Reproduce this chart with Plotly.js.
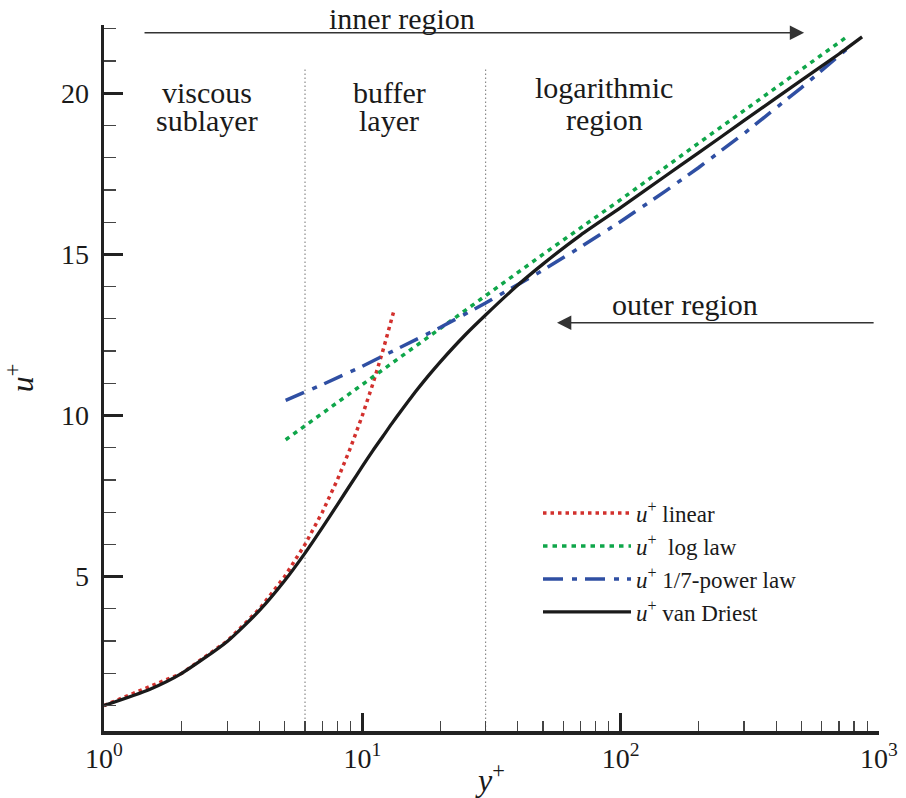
<!DOCTYPE html>
<html>
<head>
<meta charset="utf-8">
<script src="https://cdn.plot.ly/plotly-3.0.1.min.js"></script>
<style>html,body{margin:0;padding:0;background:#fff;} #chart{width:906px;height:798px;}</style>
</head>
<body>
<div id="chart"></div>
<script>
// ---- data ----
const yPlusVD = [1, 1.5, 2, 3, 4, 5, 6, 7, 8, 9, 10, 11, 12, 13, 14, 16, 18, 20, 25, 30, 40, 50, 70, 100, 150, 200, 300, 500, 700, 860];
const uVD     = [1.0, 1.5, 2.0, 2.99, 3.95, 4.87, 5.73, 6.52, 7.23, 7.86, 8.42, 8.92, 9.35, 9.75, 10.1, 10.72, 11.23, 11.66, 12.5, 13.12, 14.05, 14.7, 15.6, 16.45, 17.45, 18.15, 19.15, 20.4, 21.22, 21.75];

const yPlusLin = [1, 2, 3, 4, 5, 6, 7, 8, 9, 10, 11, 12, 13.3];
const uLin     = [1, 2, 3, 4, 5, 6, 7, 8, 9, 10, 11, 12, 13.3];

const yPlusLog = [5.05, 10, 20, 50, 100, 200, 500, 750];
const uLog     = [9.25, 10.95, 12.7, 15.0, 16.7, 18.45, 20.75, 21.75];

const yPlusPow = [5.05, 7, 10, 15, 20, 30, 50, 70, 100, 150, 200, 300, 500, 760];
const uPow     = [10.47, 10.96, 11.53, 12.22, 12.73, 13.49, 14.51, 15.23, 16.02, 16.98, 17.69, 18.75, 20.17, 21.41];

const regionBounds = [6, 30];
const regionLineU  = [0.21, 20.8];

const xTickVals  = [1, 10, 100, 1000];
const xTickText  = ['10<sup>0</sup>', '10<sup>1</sup>', '10<sup>2</sup>', '10<sup>3</sup>'];
const xMinorVals = [2,3,4,5,6,7,8,9,20,30,40,50,60,70,80,90,200,300,400,500,600,700,800,900];
const yTickVals  = [5, 10, 15, 20];
const yTickText  = ['5', '10', '15', '20'];

const seriesNames = ['<i>u</i><sup>+</sup> linear', '<i>u</i><sup>+</sup>  log law',
                     '<i>u</i><sup>+</sup> 1/7-power law', '<i>u</i><sup>+</sup> van Driest'];

const FONT = '"Liberation Serif", "DejaVu Serif", serif';
const TXT = '#1a1a1a';

const traces = [];
regionBounds.forEach(b => traces.push({
  x: [b, b], y: regionLineU, mode: 'lines', showlegend: false, hoverinfo: 'skip',
  line: {color: '#8a8a8a', width: 1.2, dash: '1.5px,2.5px'}
}));
traces.push({x: yPlusLin, y: uLin, mode: 'lines', name: seriesNames[0],
  line: {color: '#d2302d', width: 3.5, dash: '3.5px,4px'}});
traces.push({x: yPlusLog, y: uLog, mode: 'lines', name: seriesNames[1],
  line: {color: '#0fa64a', width: 3.5, dash: '4.5px,5px'}});
traces.push({x: yPlusPow, y: uPow, mode: 'lines', name: seriesNames[2],
  line: {color: '#2f4fa3', width: 3.5, dash: '20px,9px,5px,8px'}});
traces.push({x: yPlusVD, y: uVD, mode: 'lines', name: seriesNames[3], line: {color: '#1a1a1a', width: 3.3, shape: 'spline', smoothing: 0.6}});

const L = Math.log10;
const txt = (x, y, t) => ({xref: 'x', yref: 'y', x: x, y: y, text: t, showarrow: false, yanchor: 'middle'});
const layout = {
  width: 906, height: 798,
  margin: {l: 104, r: 27, t: 25, b: 67},
  paper_bgcolor: '#fff', plot_bgcolor: '#fff',
  font: {family: FONT, size: 30, color: TXT},
  showlegend: true,
  legend: {x: 0.56, y: 0.339, xanchor: 'left', yanchor: 'top', bgcolor: 'rgba(0,0,0,0)',
           font: {family: FONT, size: 23, color: TXT}, itemwidth: 88, tracegroupgap: 0},
  xaxis: {
    type: 'log', range: [0, 3], showgrid: false, zeroline: false,
    showline: true, linecolor: '#222', linewidth: 3.5,
    tickmode: 'array', tickvals: xTickVals, ticktext: xTickText,
    ticks: 'inside', ticklen: 18, tickwidth: 3.5, tickcolor: '#222',
    ticklabelstandoff: 0,
    tickfont: {family: FONT, size: 28, color: TXT},
    minor: {tickmode: 'array', tickvals: xMinorVals, ticks: 'inside', ticklen: 10, tickwidth: 1.2, tickcolor: '#444', showgrid: false},
    title: {text: '<i>y</i><sup>+</sup>', font: {family: FONT, size: 32, color: TXT}, standoff: 2}
  },
  yaxis: {
    range: [0.21, 22.12], showgrid: false, zeroline: false,
    showline: true, linecolor: '#222', linewidth: 3.5,
    tickmode: 'array', tickvals: yTickVals, ticktext: yTickText,
    ticks: 'inside', ticklen: 19, tickwidth: 3.5, tickcolor: '#222',
    ticklabelstandoff: 6,
    tickfont: {family: FONT, size: 28, color: TXT},
    minor: {dtick: 1, tick0: 0, ticks: 'inside', ticklen: 12, tickwidth: 1.2, tickcolor: '#444', showgrid: false},
    title: {text: '<i>u</i><sup>+</sup>', font: {family: FONT, size: 32, color: TXT}, standoff: 26}
  },
  annotations: [
    {xref: 'x', yref: 'y', x: L(513), y: 21.88, axref: 'x', ayref: 'y', ax: L(1.416), ay: 21.88,
     text: '', showarrow: true, arrowhead: 2, arrowsize: 2.2, arrowwidth: 1.3, arrowcolor: '#333'},
    {xref: 'x', yref: 'y', x: L(56.7), y: 12.88, axref: 'x', ayref: 'y', ax: L(966), ay: 12.88,
     text: '', showarrow: true, arrowhead: 2, arrowsize: 2.2, arrowwidth: 1.3, arrowcolor: '#333'},
    {xref: 'paper', yref: 'paper', x: 0.3845, y: 1.0099, yanchor: 'middle', text: 'inner region', showarrow: false},
    txt(L(177.5), 13.46, 'outer region'),
    txt(L(2.5), 20.03, 'viscous'),
    txt(L(2.5), 19.16, 'sublayer'),
    txt(L(12.7), 20.03, 'buffer'),
    txt(L(12.7), 19.16, 'layer'),
    txt(L(86.3), 20.19, 'logarithmic'),
    txt(L(86.3), 19.2, 'region')
  ]
};

Plotly.newPlot('chart', traces, layout, {staticPlot: true, displayModeBar: false});
</script>
</body>
</html>
